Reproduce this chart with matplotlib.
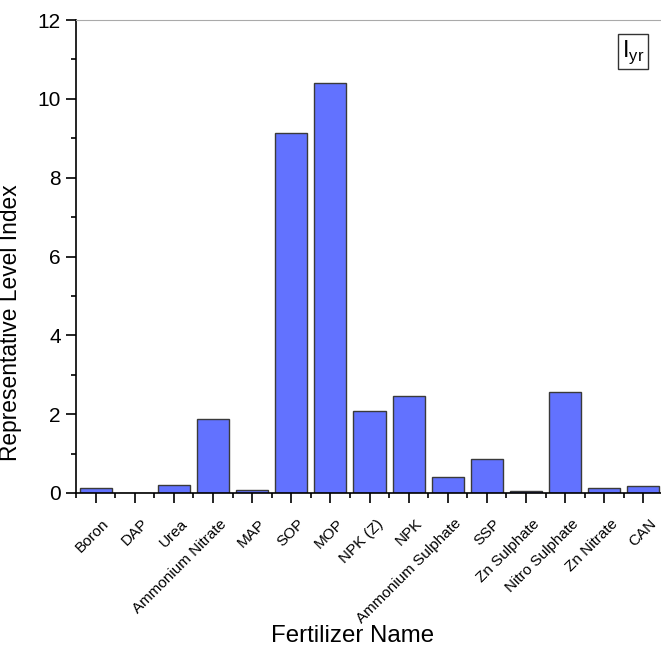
import numpy as np
import matplotlib
matplotlib.use("Agg")
import matplotlib.pyplot as plt
import matplotlib.transforms as mtransforms
from matplotlib.ticker import MultipleLocator

plt.rcParams['font.family'] = ['Liberation Sans', 'DejaVu Sans']

# fertilizer names and values
names = ["Boron", "DAP", "Urea", "Ammonium Nitrate", "MAP", "SOP", "MOP", "NPK (Z)",
         "NPK", "Ammonium Sulphate", "SSP", "Zn Sulphate", "Nitro Sulphate", "Zn Nitrate", "CAN"]
values = [0.12, 0.01, 0.20, 1.88, 0.08, 9.13, 10.40, 2.07, 2.45, 0.40, 0.85, 0.06, 2.55, 0.13, 0.17]

fig = plt.figure(figsize=(6.61, 6.46), dpi=100)
ax = fig.add_axes([76/661, 153/646, 587/661, 473/646])

x = np.arange(len(names))
ax.bar(x, values, width=0.82, color="#6272ff", edgecolor="#3a3a3a", linewidth=1.0, zorder=2)

ax.set_xlim(-0.5, 14.5)
ax.set_ylim(0, 12)
ax.yaxis.set_major_locator(MultipleLocator(2))
ax.yaxis.set_minor_locator(MultipleLocator(1))
ax.set_xticks(x)
ax.set_xticks(np.arange(-0.5, 15, 1), minor=True)
ax.set_xticklabels(names, rotation=45, ha="right", va="top", rotation_mode="anchor", fontsize=11)
ax.tick_params(axis="y", labelsize=15, direction="out", length=7, width=1.2, pad=4)
ax.tick_params(axis="y", which="minor", direction="out", length=3.5, width=1.2)
ax.tick_params(axis="x", direction="out", length=7, width=1.2, pad=10)
ax.tick_params(axis="x", which="minor", direction="out", length=3.5, width=1.2)

# shift the slanted labels a little to the right, like the original
shift = mtransforms.ScaledTranslation(4.5/72, 0, fig.dpi_scale_trans)
for lbl in ax.get_xticklabels():
    lbl.set_transform(lbl.get_transform() + shift)

ax.spines["right"].set_visible(False)
ax.spines["top"].set_color("#aaaaaa")
ax.spines["left"].set_linewidth(1.2)
ax.spines["bottom"].set_linewidth(1.2)

ax.set_ylabel("Representative Level Index", fontsize=16.4)
ax.yaxis.set_label_coords(22/661, 0.5, transform=fig.transFigure)
fig.text(353/661, 10/646, "Fertilizer Name", fontsize=17.3, ha="center", va="center")

ax.text(0.968, 0.962, r"I$_{\mathregular{yr}}$", transform=ax.transAxes, fontsize=17,
        ha="right", va="top",
        bbox=dict(boxstyle="square,pad=0.15", facecolor="white", edgecolor="#333333", linewidth=1))

fig.savefig("out.png", dpi=100)
